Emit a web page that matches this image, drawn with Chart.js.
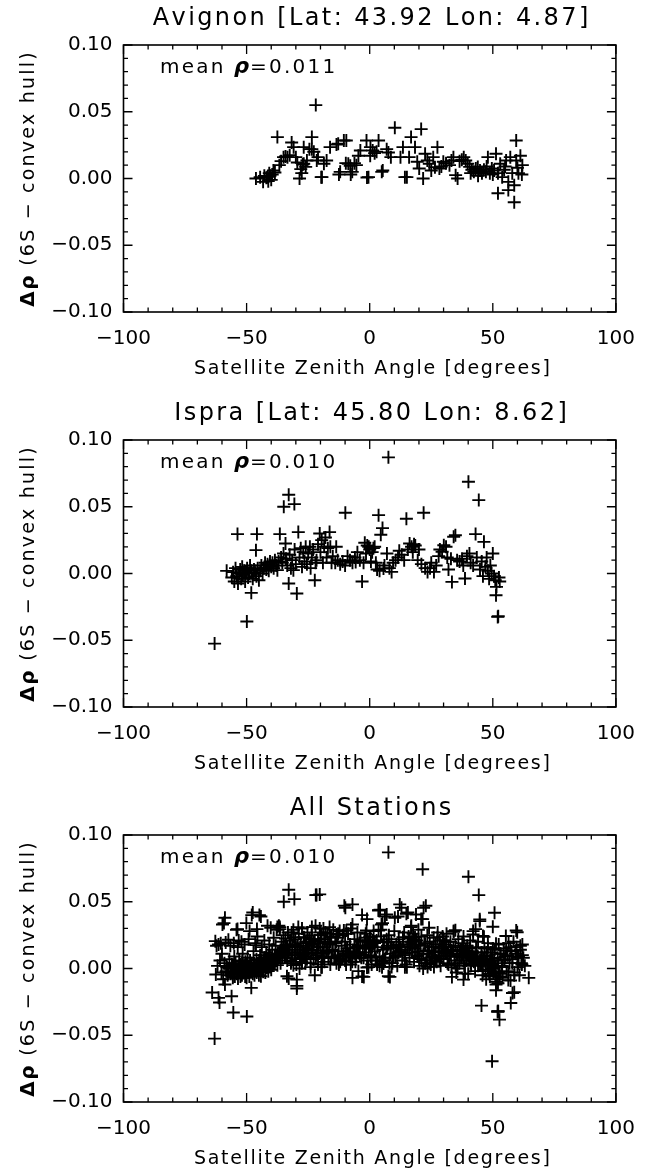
<!DOCTYPE html>
<html>
<head>
<meta charset="utf-8">
<script src="https://cdn.jsdelivr.net/npm/chart.js@4.4.1/dist/chart.umd.min.js"></script>
<style>
  html, body { margin: 0; padding: 0; background: #fff; }
  canvas { display: block; }
</style>
</head>
<body>
<canvas id="c1" width="650" height="395"></canvas>
<canvas id="c2" width="650" height="395"></canvas>
<canvas id="c3" width="650" height="383"></canvas>
<script>
// ---------------- DATA ----------------
const panelTitles = ['Avignon [Lat: 43.92 Lon: 4.87]', 'Ispra [Lat: 45.80 Lon: 8.62]', 'All Stations'];
const meanValues = ['0.011', '0.010', '0.010'];
const xTickValues = [-100, -50, 0, 50, 100];
const yTickValues = [-0.10, -0.05, 0.00, 0.05, 0.10];
const xAxisTitle = 'Satellite Zenith Angle [degrees]';
const yAxisTitleBold = 'Δρ';
const yAxisTitleRest = ' (6S − convex hull)';

const avignonPoints = [
[-46.2,0.000],[-44.5,0.001],[-43.3,-0.0025],[-42.8,0.002],[-42.0,0.0005],[-41.6,0.001],[-41.2,-0.002],[-40.8,0.004],
[-40.5,0.002],[-40.0,-0.001],[-39.6,0.003],[-39.1,0.006],[-38.5,0.0045],[-37.5,0.031],[-36.7,0.010],[-36.0,0.013],
[-35.0,0.016],[-34.2,0.0165],[-33.4,0.016],[-32.5,0.0175],[-31.7,0.027],[-30.9,0.0235],[-30.0,0.016],[-29.4,0.012],
[-28.5,0.000],[-28.0,0.007],[-27.6,0.004],[-27.2,0.0105],[-26.8,0.011],[-26.0,0.0087],[-26.8,0.0235],[-25.5,0.0135],
[-24.5,0.022],[-23.5,0.031],[-23.5,0.022],[-22.7,0.020],[-21.9,0.055],[-21.0,0.016],[-21.5,0.0135],[-19.4,0.001],
[-18.6,0.011],[-17.5,0.0135],[-16.1,0.0235],[-13.5,0.0255],[-12.8,0.026],[-12.0,0.005],[-10.5,0.0285],[-9.5,0.0285],
[-8.7,0.011],[-7.9,0.0095],[-7.1,0.005],[-6.2,0.0115],[-5.4,0.010],[-4.6,0.017],[-3.8,0.021],[-1.3,0.0285],
[-0.5,0.001],[0.3,0.0235],[1.2,0.021],[2.0,0.019],[2.8,0.020],[3.6,0.0285],[5.3,0.006],[6.9,0.022],
[7.6,0.0195],[8.6,0.016],[10.2,0.038],[12.5,0.016],[13.5,0.0235],[14.3,0.001],[15.1,0.001],[16.0,0.016],
[16.8,0.031],[18.4,0.0235],[19.3,0.0125],[20.1,0.0075],[20.9,0.037],[21.7,0.000],[22.5,0.0185],[23.4,0.0135],
[24.2,0.011],[25.0,0.006],[25.8,0.016],[26.5,0.0085],[27.5,0.0235],[28.3,0.0075],[29.1,0.009],[29.9,0.0125],
[31.0,0.0115],[32.4,0.010],[33.2,0.0135],[34.0,0.016],[34.9,0.0025],[35.7,0.000],[36.5,0.013],[37.4,0.014],
[38.2,0.016],[39.0,0.0135],[39.8,0.011],[40.6,0.0087],[41.5,0.0065],[42.3,0.005],[43.1,0.0075],[43.9,0.0087],
[44.8,0.006],[45.6,0.004],[46.4,0.0065],[47.2,0.005],[48.0,0.016],[48.8,0.004],[49.6,0.0075],[50.5,0.006],
[51.3,0.0185],[52.1,0.004],[52.1,-0.011],[53.0,0.011],[53.8,0.001],[54.6,0.0065],[55.4,0.0135],[56.3,-0.0025],
[56.3,-0.0087],[57.1,0.016],[57.9,0.004],[58.7,-0.0178],[58.7,-0.005],[59.5,0.0285],[59.5,0.0135],[60.4,0.004],
[61.2,0.017],[62.0,0.010],[61.8,0.003],[60.0,0.008],[55.0,0.009],[50.0,0.003],[47.5,0.009],[44.0,0.002],
[41.0,0.004],[-12.5,0.003],[-9.7,0.0115],[-7.7,0.003],[-1.1,0.0008],[4.9,0.005],[0.2,0.017],[-19.7,0.001]
];

const ispraPoints = [
[-63.0,-0.0525],[-58.1,0.002],[-56.0,-0.003],[-55.5,0.001],[-55.0,-0.006],[-54.5,0.004],[-54.0,-0.002],[-53.7,0.0295],
[-53.5,-0.0075],[-53.0,0.000],[-52.6,0.003],[-52.2,-0.004],[-51.8,0.005],[-51.5,-0.001],[-51.0,0.002],[-50.6,-0.006],
[-50.2,0.001],[-49.9,-0.036],[-49.8,0.004],[-49.4,-0.003],[-49.0,0.000],[-48.6,0.006],[-48.1,-0.0145],[-48.0,0.002],
[-47.5,-0.004],[-47.0,0.003],[-46.5,0.0005],[-46.2,0.0175],[-46.0,-0.002],[-45.8,0.0295],[-45.5,0.004],[-45.0,-0.005],
[-44.5,0.002],[-44.0,0.006],[-43.5,0.000],[-43.0,0.004],[-42.5,0.008],[-42.0,0.003],[-41.5,0.007],[-41.0,0.002],
[-40.5,0.009],[-40.0,0.005],[-39.5,0.008],[-39.0,0.004],[-38.5,0.010],[-38.0,0.006],[-37.5,0.0025],[-37.0,0.009],
[-36.5,0.0295],[-36.0,0.012],[-35.5,0.008],[-35.0,0.015],[-34.9,0.050],[-34.2,0.0225],[-34.0,0.011],[-33.5,0.006],
[-32.9,0.059],[-32.9,-0.0075],[-32.5,0.014],[-32.0,0.004],[-31.5,0.010],[-31.0,0.0025],[-30.6,0.052],[-30.5,0.018],
[-30.0,0.007],[-29.6,-0.015],[-29.0,0.031],[-28.5,0.012],[-28.0,0.019],[-27.5,0.005],[-27.0,0.016],[-26.5,0.009],
[-26.0,0.020],[-25.5,0.007],[-25.0,0.015],[-24.3,0.020],[-24.0,0.004],[-23.5,0.012],[-23.0,0.018],[-22.3,-0.005],
[-22.0,0.008],[-21.6,0.010],[-21.0,0.022],[-20.3,0.030],[-20.0,0.016],[-19.5,0.025],[-19.0,0.008],[-18.5,0.020],
[-18.0,0.027],[-17.5,0.012],[-17.0,0.019],[-16.3,0.031],[-16.0,0.020],[-15.5,0.008],[-15.0,0.013],[-14.0,0.008],
[-13.6,0.020],[-13.0,0.010],[-12.0,0.007],[-11.0,0.009],[-10.0,0.006],[-9.9,0.0455],[-9.0,0.013],[-8.0,0.010],
[-7.0,0.008],[-6.0,0.012],[-5.7,0.0087],[-5.0,0.016],[-4.0,0.010],[-3.1,-0.006],[-2.5,0.008],[-2.0,0.023],
[-1.5,0.015],[-1.0,0.021],[-0.4,0.020],[0.0,0.018],[0.5,0.009],[1.0,0.016],[1.5,0.019],[2.0,0.020],
[2.5,0.008],[3.0,0.003],[3.6,0.0437],[4.0,0.002],[4.5,0.029],[5.2,0.034],[5.6,0.0037],[6.0,0.006],
[7.0,0.015],[7.6,0.087],[8.0,0.004],[8.9,0.0012],[9.5,0.008],[10.5,0.010],[11.5,0.012],[12.0,0.017],
[13.0,0.014],[14.0,0.010],[14.9,0.041],[15.5,0.018],[16.2,0.0225],[17.0,0.020],[17.5,0.016],[18.0,0.022],
[18.5,0.021],[19.5,0.010],[20.0,0.018],[21.0,0.007],[21.9,0.0455],[22.5,0.004],[23.5,0.0012],[24.5,0.004],
[25.0,0.008],[26.1,0.0012],[27.0,0.006],[28.0,0.013],[28.5,0.018],[29.4,0.0163],[30.1,0.0212],[31.0,0.020],
[31.5,0.012],[32.0,0.003],[33.0,0.011],[33.4,-0.0063],[34.1,0.0275],[34.8,0.0287],[35.5,0.010],[36.5,0.009],
[37.5,0.011],[38.0,0.006],[38.7,-0.0038],[39.5,0.013],[40.1,0.0687],[40.5,0.015],[41.0,0.008],[42.0,0.006],
[43.0,0.0295],[43.5,0.012],[44.3,0.055],[44.8,0.003],[45.5,0.009],[46.0,-0.002],[46.4,0.0237],[47.0,0.005],
[47.5,0.012],[48.0,0.002],[48.5,-0.004],[49.0,0.006],[49.5,0.000],[50.0,0.015],[50.5,-0.002],[51.0,-0.005],
[51.3,-0.0163],[51.5,-0.010],[52.0,-0.0325],[52.2,-0.032],[52.5,-0.003],[52.8,-0.006]
];

const otherStationPoints = [
[-64.0,-0.018],[-62.7,0.0205],[-62.5,-0.0045],[-62.2,0.017],[-61.8,0.002],[-61.4,0.018],[-61.4,-0.022],[-61.0,-0.0255],
[-60.8,0.006],[-60.5,0.019],[-60.2,-0.003],[-60.0,0.011],[-59.8,0.033],[-59.5,-0.008],[-59.2,0.034],[-59.0,0.004],
[-58.8,0.038],[-58.8,-0.012],[-58.5,0.0195],[-58.0,0.001],[-57.7,-0.005],[-57.4,0.0215],[-57.0,0.007],[-56.6,0.017],
[-56.1,-0.0208],[-56.0,0.003],[-55.6,-0.007],[-55.4,-0.033],[-55.2,0.019],[-55.0,0.009],[-54.6,0.001],[-54.1,0.029],
[-54.0,-0.004],[-53.6,0.016],[-53.2,0.021],[-53.0,0.006],[-52.5,-0.006],[-52.1,0.020],[-52.0,0.002],[-51.6,0.011],
[-51.2,-0.003],[-50.8,0.018],[-50.5,0.005],[-50.1,0.034],[-50.0,-0.007],[-49.6,0.008],[-49.2,0.022],[-48.8,0.028],
[-48.5,-0.002],[-48.1,0.004],[-47.9,0.040],[-47.5,0.042],[-47.2,0.013],[-46.8,-0.005],[-46.5,0.019],[-46.0,0.007],
[-45.6,0.024],[-45.2,0.001],[-44.8,0.040],[-44.5,0.010],[-44.2,0.039],[-44.2,-0.0058],[-43.8,0.016],[-43.2,0.005],
[-42.8,0.021],[-42.4,-0.003],[-42.0,0.012],[-41.5,0.032],[-41.2,0.007],[-40.8,0.018],[-40.2,0.0305],[-40.0,0.002],
[-39.6,0.014],[-39.0,0.023],[-38.6,0.006],[-38.2,0.017],[-37.8,0.029],[-37.4,0.011],[-36.9,0.032],[-36.5,0.031],
[-36.2,0.004],[-35.8,0.020],[-35.4,0.013],[-35.0,0.025],[-34.5,0.008],[-34.0,0.018],[-33.6,-0.0058],[-33.2,0.027],
[-32.8,0.012],[-32.3,0.021],[-31.9,0.005],[-31.5,0.016],[-31.0,0.029],[-30.6,0.010],[-30.2,0.022],[-29.8,0.003],
[-29.6,-0.0083],[-29.6,-0.013],[-29.2,0.017],[-28.8,0.026],[-28.4,0.008],[-28.0,0.014],[-27.5,0.030],[-27.0,0.010],
[-26.6,0.023],[-26.1,0.004],[-25.7,0.017],[-25.3,0.027],[-24.8,0.011],[-24.4,0.019],[-24.0,0.001],[-23.6,0.025],
[-23.2,0.014],[-22.8,0.007],[-22.3,0.021],[-22.0,0.032],[-21.6,0.055],[-21.5,0.012],[-21.0,0.003],[-20.6,0.019],
[-20.3,0.0555],[-20.0,0.027],[-19.6,0.009],[-19.2,0.016],[-18.8,0.030],[-18.4,0.005],[-18.0,0.022],[-17.6,0.013],
[-17.2,0.026],[-16.8,0.008],[-16.4,0.018],[-16.0,0.003],[-15.6,0.024],[-15.2,0.014],[-14.8,0.029],[-14.4,0.009],
[-14.0,0.019],[-13.5,0.004],[-13.0,0.023],[-12.6,0.013],[-12.2,0.028],[-11.8,0.007],[-11.4,0.017],[-11.0,0.025],
[-10.6,0.011],[-10.3,0.047],[-10.0,0.020],[-9.6,0.003],[-9.2,0.015],[-8.8,0.026],[-8.4,0.009],[-8.0,0.018],
[-7.6,0.030],[-7.0,0.048],[-7.0,0.033],[-7.0,-0.007],[-6.6,0.012],[-6.2,0.022],[-5.8,0.005],[-5.4,0.016],
[-5.0,0.027],[-4.6,-0.002],[-4.2,0.011],[-3.8,0.020],[-3.4,0.008],[-3.1,0.040],[-2.8,0.017],[-2.4,-0.0063],
[-2.0,0.012],[-1.6,0.026],[-1.1,0.037],[-0.8,0.006],[-0.4,0.015],[0.0,0.024],[0.4,0.010],[0.8,0.003],
[1.2,0.019],[1.6,0.028],[2.0,0.013],[2.4,0.006],[2.8,0.021],[3.2,0.016],[3.6,0.0435],[4.0,0.009],
[4.2,0.044],[4.6,0.024],[4.8,0.033],[5.0,0.001],[5.4,0.014],[5.8,0.020],[6.2,0.039],[6.4,0.008],
[6.9,0.0405],[7.2,0.017],[7.6,-0.0058],[7.8,0.025],[8.2,-0.0063],[8.4,0.011],[8.8,0.020],[9.2,0.004],
[9.6,0.015],[10.0,0.028],[10.4,0.009],[10.8,0.018],[11.2,0.002],[11.5,0.039],[11.8,0.022],[12.2,0.048],
[12.4,0.013],[12.9,0.0455],[13.2,0.006],[13.6,0.020],[14.0,0.027],[14.4,0.011],[14.8,0.003],[15.2,0.016],
[15.5,0.042],[15.8,0.024],[16.2,0.008],[16.6,0.018],[16.9,0.032],[17.2,0.012],[17.6,0.026],[18.0,0.005],
[18.4,0.015],[18.8,0.0405],[19.0,0.021],[19.4,0.009],[19.8,0.029],[20.2,0.002],[20.6,0.017],[21.0,0.024],
[21.5,0.0743],[21.5,0.037],[21.8,0.011],[22.2,0.019],[22.8,0.047],[23.0,0.006],[23.4,0.025],[23.8,0.013],
[24.1,0.0305],[24.4,0.020],[24.8,0.003],[25.2,0.016],[25.6,0.009],[26.0,0.023],[26.4,0.012],[26.8,0.018],
[27.2,0.005],[27.6,0.027],[28.0,0.010],[28.4,0.021],[28.8,0.002],[29.2,0.015],[29.6,0.024],[30.0,0.007],
[30.4,0.018],[30.8,0.012],[31.2,0.026],[31.6,0.004],[32.0,0.016],[32.4,0.009],[32.8,0.020],[33.2,0.001],
[33.6,0.013],[34.1,0.028],[34.4,0.006],[34.8,0.017],[35.2,-0.003],[35.6,0.011],[36.0,0.022],[36.4,0.004],
[36.8,0.014],[37.2,0.008],[37.6,0.019],[38.1,-0.0083],[38.1,0.024],[38.4,0.002],[38.8,0.012],[39.2,0.006],
[39.6,0.017],[40.0,-0.004],[40.4,0.010],[40.8,0.021],[41.2,0.003],[41.6,0.013],[42.0,0.028],[42.0,0.0255],
[42.4,0.007],[42.8,-0.002],[43.2,0.016],[43.6,0.009],[44.0,0.020],[44.7,0.0368],[44.7,0.0355],[45.0,0.004],
[45.4,-0.0278],[45.4,0.012],[45.8,-0.005],[46.0,0.0243],[46.2,0.007],[46.6,0.015],[47.0,-0.001],[47.3,-0.008],
[47.6,0.010],[48.0,0.019],[48.4,0.003],[48.8,-0.006],[49.2,0.012],[49.7,-0.0695],[49.8,0.006],[50.0,0.0313],
[50.2,-0.003],[50.7,0.0418],[50.8,0.014],[51.2,0.001],[51.3,-0.012],[51.6,-0.008],[52.0,0.008],[52.0,-0.032],
[52.4,0.018],[52.7,-0.0383],[52.8,-0.004],[53.2,0.011],[53.6,0.002],[54.0,-0.007],[54.4,0.015],[54.8,0.006],
[55.3,0.0243],[55.6,-0.002],[56.0,0.010],[56.4,0.019],[56.8,0.004],[57.3,-0.0258],[57.2,-0.009],[57.6,0.013],
[58.0,-0.0183],[58.0,0.007],[58.4,0.020],[58.8,-0.003],[59.2,0.011],[59.6,0.016],[59.9,0.0272],[60.0,0.001],
[60.4,0.009],[60.8,-0.005],[61.2,0.014],[61.6,0.004],[62.0,0.018],[62.4,0.008],[63.0,0.002],[64.6,-0.007],
[-58.3,-0.002],[-57.2,0.000],[-56.4,-0.004],[-55.8,0.002],[-54.8,-0.006],[-53.8,-0.001],[-52.8,0.003],[-51.9,-0.005],
[-50.9,-0.001],[-49.9,0.003],[-48.9,-0.006],[-47.8,0.000],[-46.9,0.004],[-45.9,-0.003],[-44.9,0.006],[-43.9,-0.001],
[-42.9,0.008],[-41.9,0.003],[-40.9,0.010],[-39.9,0.006]
];

const allStationPoints = avignonPoints.concat(ispraPoints, otherStationPoints);
const panelData = [avignonPoints, ispraPoints, allStationPoints];

// ---------------- DRAWING ----------------
const FONT = '"DejaVu Sans", "Liberation Sans", sans-serif';

function fmtX(v) { return v < 0 ? '\u2212' + Math.abs(v) : String(v); }
function fmtY(v) {
  if (Math.abs(v) < 1e-9) return '0.00';
  return v < 0 ? '\u2212' + Math.abs(v).toFixed(2) : v.toFixed(2);
}

function drawSpaced(ctx, text, x, y, spacing) {
  let cx = x;
  for (const ch of text) {
    ctx.fillText(ch, cx, y);
    cx += ctx.measureText(ch).width + spacing;
  }
  return cx - x;
}
function measureSpaced(ctx, text, spacing) {
  let w = 0;
  for (const ch of text) w += ctx.measureText(ch).width + spacing;
  return w;
}

function makeDecor(idx) {
  return {
    id: 'decor' + idx,
    afterDraw(chart) {
      const ctx = chart.ctx;
      const a = chart.chartArea;
      const xs = chart.scales.x, ys = chart.scales.y;
      ctx.save();
      ctx.strokeStyle = '#000';
      ctx.fillStyle = '#000';
      // frame
      ctx.lineWidth = 1.6;
      ctx.strokeRect(a.left, a.top, a.right - a.left, a.bottom - a.top);
      // ticks (inward, all four sides)
      ctx.lineWidth = 1.3;
      ctx.beginPath();
      for (let v = -100; v <= 100; v += 10) {
        const px = xs.getPixelForValue(v);
        const len = (v % 50 === 0) ? 9 : 4.5;
        ctx.moveTo(px, a.bottom); ctx.lineTo(px, a.bottom - len);
        ctx.moveTo(px, a.top); ctx.lineTo(px, a.top + len);
      }
      for (let k = -10; k <= 10; k++) {
        const v = k / 100;
        const py = ys.getPixelForValue(v);
        const len = (k % 5 === 0) ? 9 : 4.5;
        ctx.moveTo(a.left, py); ctx.lineTo(a.left + len, py);
        ctx.moveTo(a.right, py); ctx.lineTo(a.right - len, py);
      }
      ctx.stroke();

      const cx = (a.left + a.right) / 2;
      ctx.textBaseline = 'middle';
      ctx.textAlign = 'left';
      // panel title
      ctx.font = '24px ' + FONT;
      let w = measureSpaced(ctx, panelTitles[idx], 2.4);
      drawSpaced(ctx, panelTitles[idx], cx + 2 - w / 2, a.top - 26, 2.4);
      // x title
      ctx.font = '19px ' + FONT;
      w = measureSpaced(ctx, xAxisTitle, 1.7);
      drawSpaced(ctx, xAxisTitle, cx + 3 - w / 2, a.bottom + 57, 1.7);
      // y title (rotated)
      ctx.save();
      ctx.translate(29, (a.top + a.bottom) / 2);
      ctx.rotate(-Math.PI / 2);
      ctx.font = 'bold 20px ' + FONT;
      const w1 = measureSpaced(ctx, yAxisTitleBold, 1.5);
      ctx.font = '19px ' + FONT;
      const w2 = measureSpaced(ctx, yAxisTitleRest, 2.2);
      let sx = -(w1 + w2) / 2;
      ctx.font = 'bold 20px ' + FONT;
      sx += drawSpaced(ctx, yAxisTitleBold, sx, 0, 1.5);
      ctx.font = '19px ' + FONT;
      drawSpaced(ctx, yAxisTitleRest, sx, 0, 2.2);
      ctx.restore();
      // mean annotation
      let ax = 160;
      const ay = a.top + 23;
      ctx.font = '20px ' + FONT;
      ax += drawSpaced(ctx, 'mean ', ax, ay, 2.2);
      ctx.font = 'italic bold 21px ' + FONT;
      ax += drawSpaced(ctx, 'ρ', ax, ay, 1);
      ctx.font = '20px ' + FONT;
      drawSpaced(ctx, '=' + meanValues[idx], ax, ay, 2.2);
      ctx.restore();
    }
  };
}

function makeChart(canvasId, idx) {
  const canvas = document.getElementById(canvasId);
  const H = canvas.height;
  const plotBottom = 312;
  return new Chart(canvas, {
    type: 'scatter',
    data: {
      datasets: [{
        data: panelData[idx].map(p => ({ x: p[0], y: p[1] })),
        pointStyle: 'cross',
        pointRadius: 6.5,
        pointHoverRadius: 6.5,
        borderColor: '#000',
        backgroundColor: '#000',
        borderWidth: 1.9,
        showLine: false
      }]
    },
    options: {
      responsive: false,
      animation: false,
      devicePixelRatio: 1,
      events: [],
      layout: { padding: { left: 0, right: 24, top: 45, bottom: 0 } },
      plugins: { legend: { display: false }, tooltip: { enabled: false }, title: { display: false } },
      scales: {
        x: {
          type: 'linear', min: -100, max: 100,
          afterBuildTicks: s => { s.ticks = xTickValues.map(v => ({ value: v })); },
          afterFit: s => { s.height = H - plotBottom; },
          grid: { display: false, drawTicks: false },
          border: { display: false },
          ticks: { padding: 15, color: '#000', maxRotation: 0, autoSkip: false,
                   font: { family: FONT, size: 20 }, callback: v => fmtX(v) }
        },
        y: {
          type: 'linear', min: -0.1, max: 0.1,
          afterBuildTicks: s => { s.ticks = yTickValues.map(v => ({ value: v })); },
          afterFit: s => { s.width = 123.5; },
          grid: { display: false, drawTicks: false },
          border: { display: false },
          ticks: { padding: 11, color: '#000', autoSkip: false,
                   font: { family: FONT, size: 20 }, callback: v => fmtY(v) }
        }
      }
    },
    plugins: [makeDecor(idx)]
  });
}

makeChart('c1', 0);
makeChart('c2', 1);
makeChart('c3', 2);
</script>
</body>
</html>
